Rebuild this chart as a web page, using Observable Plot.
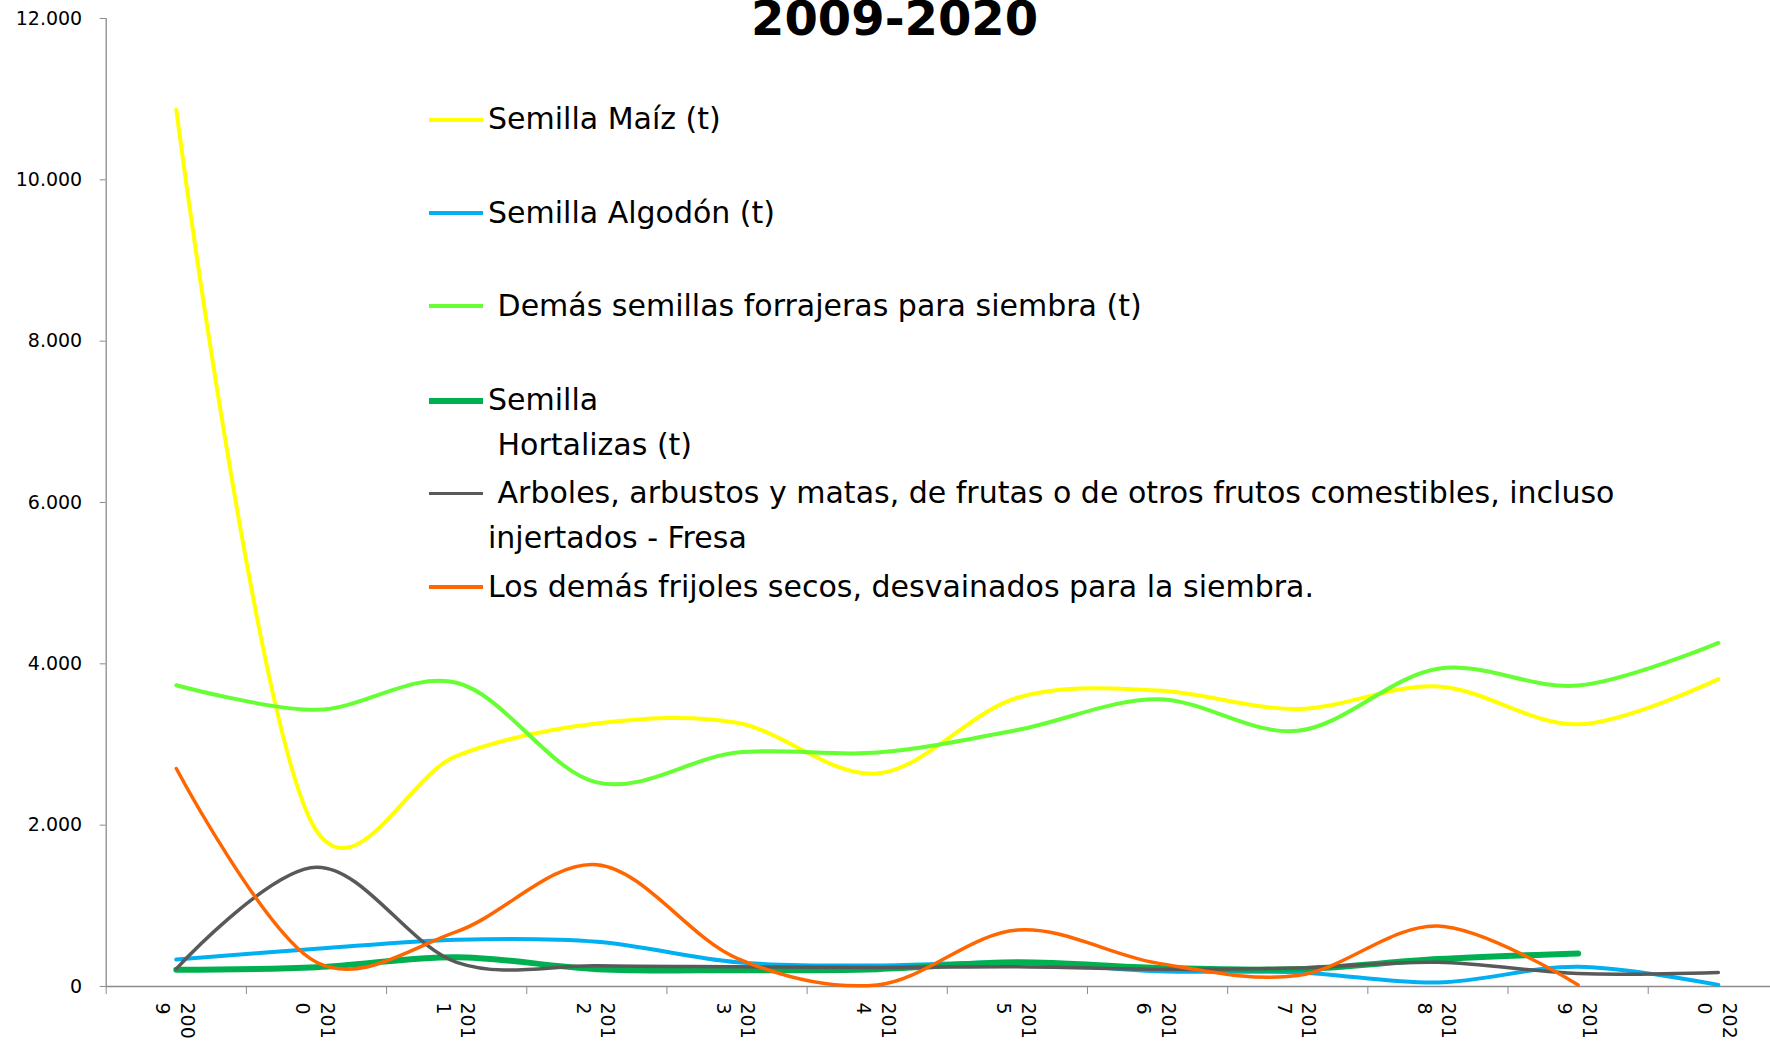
<!DOCTYPE html>
<html><head><meta charset="utf-8">
<script src="https://cdn.jsdelivr.net/npm/d3@7"></script>
<script src="https://cdn.jsdelivr.net/npm/@observablehq/plot@0.6"></script>
<style>
html,body{margin:0;padding:0;background:#fff;overflow:hidden;}
#wrap{position:relative;width:1770px;height:1043px;overflow:hidden;}
#title{position:absolute;left:594.6px;width:600px;top:-6.5px;text-align:center;font:bold 48px/48px "Comic Sans MS","DejaVu Sans",sans-serif;color:#000;white-space:nowrap;}
.leg{position:absolute;left:429px;height:44.5px;font:30px/44.5px "Comic Sans MS","DejaVu Sans",sans-serif;color:#000;white-space:pre;}
.sw{position:absolute;left:0;width:54px;}
.lt{position:absolute;left:59px;top:0;}
</style>
</head><body>
<div id="wrap"><div id="chart"></div><div id="title"></div><div id="legend"></div></div>
<script>
const title = "2009-2020";
const years = [2009, 2010, 2011, 2012, 2013, 2014, 2015, 2016, 2017, 2018, 2019, 2020];
const maiz       = [10870, 1930, 2860, 3260, 3270, 2640, 3580, 3670, 3440, 3720, 3250, 3810];
const algodon    = [335, 467, 580, 555, 300, 260, 300, 190, 175, 50, 245, 20];
const forrajeras = [3735, 3430, 3765, 2530, 2900, 2900, 3180, 3560, 3170, 3940, 3730, 4260];
const hortalizas = [207, 240, 364, 215, 202, 215, 300, 230, 215, 340, 410, null];
const arboles    = [219, 1479, 300, 256, 245, 235, 245, 215, 230, 300, 160, 175];
const frijoles   = [2702, 300, 680, 1510, 350, 20, 700, 290, 135, 750, 20, null];
const yTicks = [0, 2000, 4000, 6000, 8000, 10000, 12000];

const series = [
  {name: "Semilla Maíz (t)", values: maiz, color: "#FFFF00", width: 4},
  {name: "Semilla Algodón (t)", values: algodon, color: "#00B0F0", width: 4},
  {name: " Demás semillas forrajeras para siembra (t)", values: forrajeras, color: "#66FF33", width: 4},
  {name: "Semilla\n Hortalizas (t)", values: hortalizas, color: "#00B050", width: 6},
  {name: " Arboles, arbustos y matas, de frutas o de otros frutos comestibles, incluso\ninjertados - Fresa", values: arboles, color: "#595959", width: 3.5},
  {name: "Los demás frijoles secos, desvainados para la siembra.", values: frijoles, color: "#FF6600", width: 3.5}
];
const legendY = [119.7, 213.3, 305.9, 400.7, 493.3, 587];

const esFmt = d3.formatLocale({decimal: ",", thousands: ".", grouping: [3], currency: ["", ""]}).format(",");
const axisGray = "#8c8c8c";
const smooth = d3.curveCatmullRom.alpha(0.2);

const lineMarks = series.map(s => Plot.line(
  years.map((yr, i) => ({year: yr, value: s.values[i]})),
  {x: "year", y: "value", stroke: s.color, strokeWidth: s.width, curve: smooth, strokeLinejoin: "round", strokeLinecap: "round"}
));

const chart = Plot.plot({
  width: 1770,
  height: 1043,
  marginLeft: 105.7,
  marginRight: 0,
  marginTop: 18,
  marginBottom: 57,
  style: {fontFamily: "DejaVu Sans, sans-serif", fontSize: "19px", background: "#fff", overflow: "hidden"},
  x: {type: "linear", domain: [2008.5, 2020.5], range: [105.7, 1787.9]},
  y: {domain: [0, 12000], range: [986, 18]},
  marks: [
    Plot.axisY({ticks: yTicks, tickSize: 6, tickPadding: 18, tickFormat: esFmt, stroke: axisGray, fill: "#000", fontSize: 19, label: null}),
    Plot.axisX({ticks: d3.range(2008.5, 2021, 1), tickSize: 8, tickFormat: () => "", stroke: axisGray, label: null}),
    Plot.axisX({ticks: years, tickSize: 0, tickPadding: 16, tickRotate: 90, lineHeight: 1.29, fontSize: 19, fill: "#000",
      tickFormat: d => String(d).slice(0, 3) + "\n" + String(d).slice(3), label: null}),
    Plot.ruleX([2008.5], {y1: 0, y2: 12000, stroke: axisGray, strokeWidth: 1.3}),
    Plot.ruleY([0], {stroke: axisGray, strokeWidth: 1.3}),
    ...lineMarks
  ]
});
document.getElementById("chart").appendChild(chart);
document.getElementById("title").textContent = title;

const leg = document.getElementById("legend");
series.forEach((s, i) => {
  const d = document.createElement("div");
  d.className = "leg";
  d.style.top = (legendY[i] - 22.25) + "px";
  const sw = document.createElement("div");
  sw.className = "sw";
  sw.style.background = s.color;
  sw.style.height = (s.width) + "px";
  sw.style.top = (22.25 - s.width / 2) + "px";
  const t = document.createElement("div");
  t.className = "lt";
  t.textContent = s.name;
  d.appendChild(sw); d.appendChild(t);
  leg.appendChild(d);
});
</script>
</body></html>
